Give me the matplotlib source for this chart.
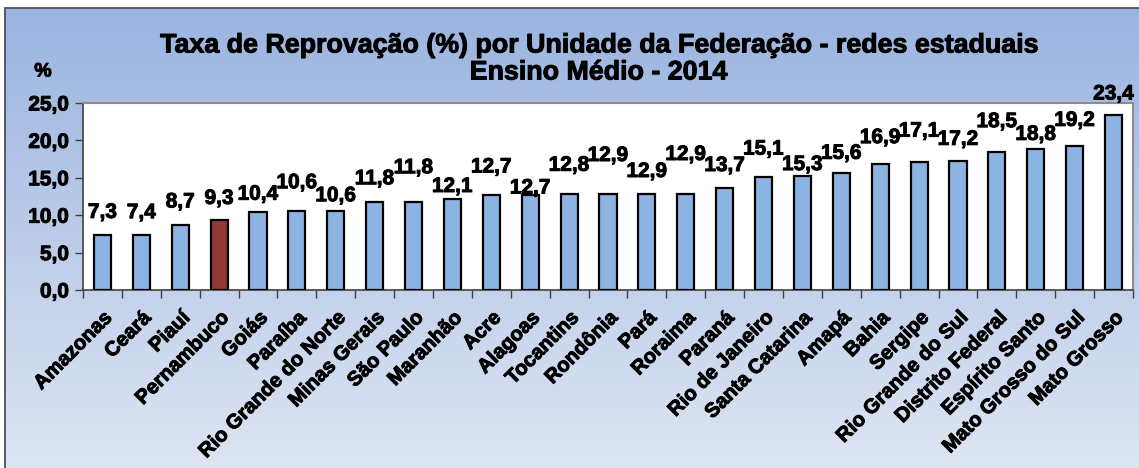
import numpy as np
import matplotlib
matplotlib.use("Agg")
import matplotlib.pyplot as plt
import matplotlib.patheffects as pe
from matplotlib.patches import Rectangle

plt.rcParams['font.family'] = ['Liberation Sans', 'DejaVu Sans']
plt.rcParams['font.weight'] = 'bold'

# Data
estados = ["Amazonas", "Ceará", "Piauí", "Pernambuco", "Goiás", "Paraíba",
           "Rio Grande do Norte", "Minas Gerais", "São Paulo", "Maranhão", "Acre",
           "Alagoas", "Tocantins", "Rondônia", "Pará", "Roraima", "Paraná",
           "Rio de Janeiro", "Santa Catarina", "Amapá", "Bahia", "Sergipe",
           "Rio Grande do Sul", "Distrito Federal", "Espírito Santo",
           "Mato Grosso do Sul", "Mato Grosso"]
taxas = [7.3, 7.4, 8.7, 9.3, 10.4, 10.6, 10.6, 11.8, 11.8, 12.1, 12.7, 12.7,
         12.8, 12.9, 12.9, 12.9, 13.7, 15.1, 15.3, 15.6, 16.9, 17.1, 17.2,
         18.5, 18.8, 19.2, 23.4]
destaque = "Pernambuco"
yticks = [0, 5, 10, 15, 20, 25]

# label lift above the bar top (pixels), like Excel's staggered labels
lift_px = [23, 22, 23, 22, 18, 28, 15, 23, 34, 13, 28, 7, 29, 38, 22, 39, 22,
           28, 11, 20, 26, 31, 22, 30, 15, 26, 21]

heavy = [pe.withStroke(linewidth=0.7, foreground='black')]

W, H = 1139, 468
fig = plt.figure(figsize=(W / 100, H / 100), dpi=100)

# gradient background with a border
bg = fig.add_axes([0, 0, 1, 1])
grad = np.linspace(0, 1, 256).reshape(-1, 1)
top = np.array([0.604, 0.706, 0.878])
bot = np.array([0.871, 0.898, 0.953])
img = top + (bot - top) * grad[:, :, None]
bg.imshow(img, aspect='auto', extent=[5 / W, 1, 0, 1 - 8 / H], transform=bg.transAxes)
bg.set_xlim(0, 1)
bg.set_ylim(0, 1)
bg.add_patch(Rectangle((5 / W, -0.01), 1, 1.01 - 8 / H, fill=False, ec='#4a4f5a', lw=1.3,
                       transform=bg.transAxes))
bg.axis('off')

ax = fig.add_axes([83 / W, 1 - 290 / H, (1133 - 83) / W, (290 - 103) / H])
ax.set_facecolor('white')
x = np.arange(len(estados))
cores = ['#953735' if e == destaque else '#8db3e2' for e in estados]
ax.bar(x, taxas, width=0.44, color=cores, edgecolor='black', linewidth=1.6, zorder=3)

for xi, v, lp in zip(x, taxas, lift_px):
    ax.annotate(f"{v:.1f}".replace('.', ','), (xi, v), xytext=(0, lp * 0.72),
                textcoords='offset points', ha='center', va='center',
                fontsize=15, fontweight='bold', annotation_clip=False,
                path_effects=heavy)

ax.set_xlim(-0.5, len(estados) - 0.5)
ax.set_ylim(0, 25)
ax.set_yticks(yticks)
ax.set_yticklabels([f"{t:.1f}".replace('.', ',') for t in yticks], fontsize=15)
ax.tick_params(axis='y', direction='out', length=6, width=1, color='#404040', pad=4)

ax.set_xticks(np.arange(len(estados) + 1) - 0.5)
ax.set_xticklabels([])
ax.tick_params(axis='x', which='major', direction='out', length=6, width=1, color='#404040')
ax.set_xticks(x, minor=True)
ax.set_xticklabels(estados, minor=True, rotation=45, ha='right', va='top',
                   rotation_mode='anchor', fontsize=14.6)
ax.tick_params(axis='x', which='minor', length=0, pad=13)
for t in ax.get_xticklabels(minor=True) + ax.get_yticklabels():
    t.set_path_effects(heavy)

for s in ['left', 'bottom']:
    ax.spines[s].set_color('#404040')
    ax.spines[s].set_linewidth(1.2)
for s in ['top', 'right']:
    ax.spines[s].set_color('#8c8c8c')
    ax.spines[s].set_linewidth(1.5)

fig.text(598 / W, 1 - 59 / H,
         "Taxa de Reprovação (%) por Unidade da Federação - redes estaduais\nEnsino Médio - 2014",
         ha='center', va='center', fontsize=19.3, fontweight='bold', linespacing=1.05,
         path_effects=heavy)
fig.text(43 / W, 1 - 72 / H, "%", ha='center', va='center', fontsize=14,
         fontweight='bold', path_effects=heavy)

fig.savefig("out.png", dpi=100)
